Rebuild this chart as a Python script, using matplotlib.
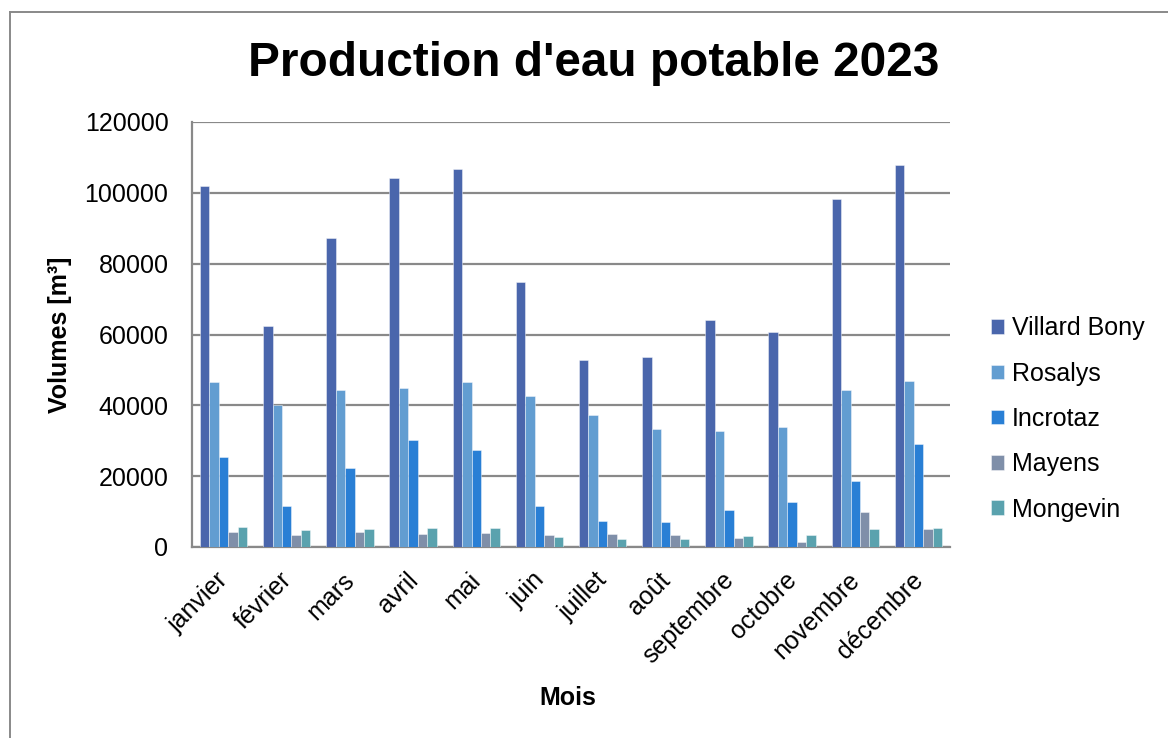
import numpy as np
import matplotlib
matplotlib.use("Agg")
import matplotlib.pyplot as plt
from matplotlib.lines import Line2D

plt.rcParams['font.family'] = ['Liberation Sans', 'DejaVu Sans']

# données
mois = ["janvier", "février", "mars", "avril", "mai", "juin",
        "juillet", "août", "septembre", "octobre", "novembre", "décembre"]
villard_bony = [102000, 62300, 87200, 104100, 106700, 74800,
                52800, 53700, 64000, 60600, 98300, 107800]
rosalys = [46600, 40200, 44300, 44900, 46600, 42700,
           37400, 33400, 32700, 33900, 44400, 47000]
incrotaz = [25300, 11600, 22400, 30200, 27400, 11600,
            7400, 7200, 10500, 12700, 18600, 29100]
mayens = [4200, 3500, 4200, 3700, 4000, 3400,
          3800, 3400, 2600, 1300, 10000, 5100]
mongevin = [5700, 4700, 5100, 5400, 5400, 2700,
            2300, 2300, 3200, 3500, 5200, 5400]

series = ["Villard Bony", "Rosalys", "Incrotaz", "Mayens", "Mongevin"]
valeurs = [villard_bony, rosalys, incrotaz, mayens, mongevin]
couleurs = ["#4a66ac", "#629dd1", "#297fd5", "#7f8fa9", "#5aa2ae"]

W, H = 1168, 738
fig = plt.figure(figsize=(W / 100, H / 100), dpi=100)
ax = fig.add_axes([192 / W, 1 - 547 / H, (950 - 192) / W, (547 - 122) / H])

x = np.arange(len(mois))
largeur = 0.15
for i, (nom, v, c) in enumerate(zip(series, valeurs, couleurs)):
    ax.bar(x + (i - 2) * largeur, v, largeur, color=c, label=nom,
           edgecolor=(1, 1, 1, 0.5), linewidth=0.6, zorder=3)

ax.set_xlim(-0.5, len(mois) - 0.5)
ax.set_ylim(0, 120000)
ax.set_yticks(np.arange(0, 120001, 20000))
ax.grid(axis='y', color='#898989', linewidth=1.6, zorder=0)
ax.tick_params(axis='y', length=0, pad=17, labelsize=18)
ax.tick_params(axis='x', length=0, pad=15, labelsize=18)
ax.set_xticks(x - 0.12)
ax.set_xticklabels(mois, rotation=45, ha='right', rotation_mode='anchor')

for s in ['top', 'right']:
    ax.spines[s].set_visible(False)
for s in ['left', 'bottom']:
    ax.spines[s].set_color('#898989')
    ax.spines[s].set_linewidth(1.6)

ax.set_ylabel("Volumes [m³]", fontsize=18, fontweight='bold', labelpad=9)
ax.set_xlabel("Mois", fontsize=18, fontweight='bold')
ax.xaxis.set_label_coords((568 - 192) / (950 - 192), -(686 - 547) / (547 - 122))

fig.text(594 / W, 1 - 63 / H, "Production d'eau potable 2023", fontsize=34.4,
         fontweight='bold', ha='center', va='center')

ax.legend(loc='center left', bbox_to_anchor=(991 / W, 1 - 419 / H),
          bbox_transform=fig.transFigure, frameon=False, fontsize=18,
          handlelength=0.52, handleheight=0.52, handletextpad=0.3,
          labelspacing=0.85, borderaxespad=0, borderpad=0)

# cadre du graphique
fig.add_artist(Line2D([10 / W, 10 / W], [0, 1 - 12 / H], color='#898989',
                      linewidth=1.4, transform=fig.transFigure))
fig.add_artist(Line2D([10 / W, 1], [1 - 12 / H, 1 - 12 / H], color='#898989',
                      linewidth=1.4, transform=fig.transFigure))

fig.savefig("out.png", dpi=100)
